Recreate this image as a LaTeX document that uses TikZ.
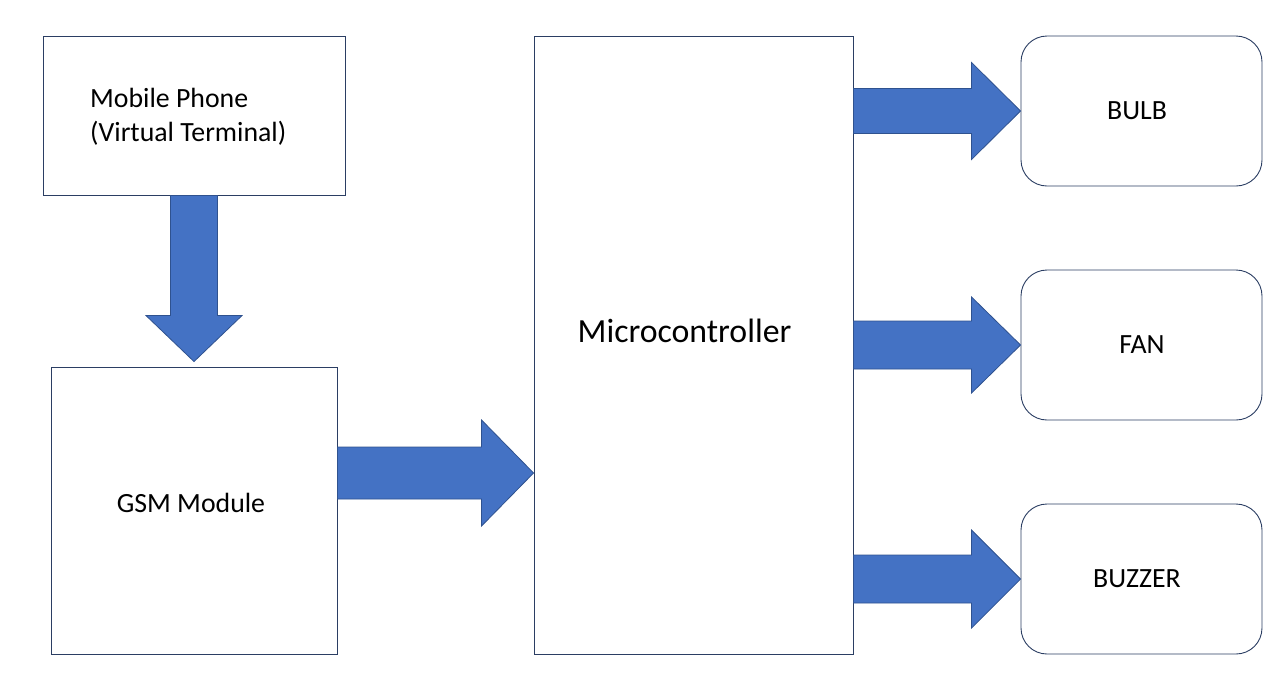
\documentclass[tikz,border=0pt]{standalone}
\usepackage{fontspec}
\setmainfont{Carlito}
\usetikzlibrary{calc}
\definecolor{boxline}{HTML}{2B3E63}
\definecolor{arrfill}{HTML}{4472C4}
\definecolor{arrline}{HTML}{2F528F}
\tikzset{
  sqbox/.style={draw=boxline, line width=0.9pt, fill=white, inner sep=0pt},
  rbox/.style={draw=boxline, line width=0.9pt, fill=white, inner sep=0pt, rounded corners=26pt,
    minimum width=241pt, minimum height=150pt},
  lbl/.style={font=\fontsize{27.8}{34}\selectfont, inner sep=0pt},
  arr/.style={fill=arrfill, draw=arrline, line width=0.8pt, line join=miter},
}
\newcommand{\harrow}[5]{% tip, tail, shaft half, head half, head length
  \draw[arr] let \p1=(#1), \p2=(#2) in
    (\x2,\y1+#3pt) -- (\x1-#5pt,\y1+#3pt) -- (\x1-#5pt,\y1+#4pt) -- (\p1)
    -- (\x1-#5pt,\y1-#4pt) -- (\x1-#5pt,\y1-#3pt) -- (\x2,\y1-#3pt) -- cycle;}
\begin{document}
\begin{tikzpicture}[x=1pt,y=-1pt]
\useasboundingbox (0,0) rectangle (1282,689);
% boxes
\node[sqbox, minimum width=302pt, minimum height=159pt] (mob) at (194,115.5) {};
\node[lbl, align=left, anchor=west] (moblbl) at (90,117) {Mobile Phone\\(Virtual Terminal)};
\node[sqbox, minimum width=286pt, minimum height=287pt] (gsm) at (194,510.5) {};
\node[lbl] (gsmlbl) at (191,503) {GSM Module};
\node[sqbox, minimum width=319pt, minimum height=618pt] (micro) at (693.5,345) {};
\node[font=\fontsize{33.8}{40}\selectfont, inner sep=0pt] (microlbl) at (684.5,331) {Microcontroller};
\node[rbox] (bulb) at (1141.5,111) {};
\node[lbl] (bulblbl) at (1137,111) {BULB};
\node[rbox] (fan) at (1141.5,345) {};
\node[lbl] (fanlbl) at (1142,345) {FAN};
\node[rbox] (buzz) at (1141.5,579) {};
\node[lbl] (buzzlbl) at (1137,579) {BUZZER};
% named coordinates
\coordinate (gsmtip) at (micro.west |- 0,473);
\coordinate (gsmtail) at (gsm.east);
\coordinate (downtip) at ($(gsm.north)+(0,-5)$);
% arrows
\draw[arr] let \p1=(downtip), \p2=(mob.south) in
  (\x1-23.5pt,\y2) -- (\x1-23.5pt,\y1+46pt) -- (\x1-48pt,\y1+46pt) -- (\p1)
  -- (\x1+48pt,\y1+46pt) -- (\x1+23.5pt,\y1+46pt) -- (\x1+23.5pt,\y2) -- cycle;
\harrow{gsmtip}{gsmtail}{26}{53}{52}
\harrow{bulb.west}{micro.east}{22.5}{48.5}{49}
\harrow{fan.west}{micro.east}{24}{48}{49}
\harrow{buzz.west}{micro.east}{24}{49}{49}
\end{tikzpicture}
\end{document}
